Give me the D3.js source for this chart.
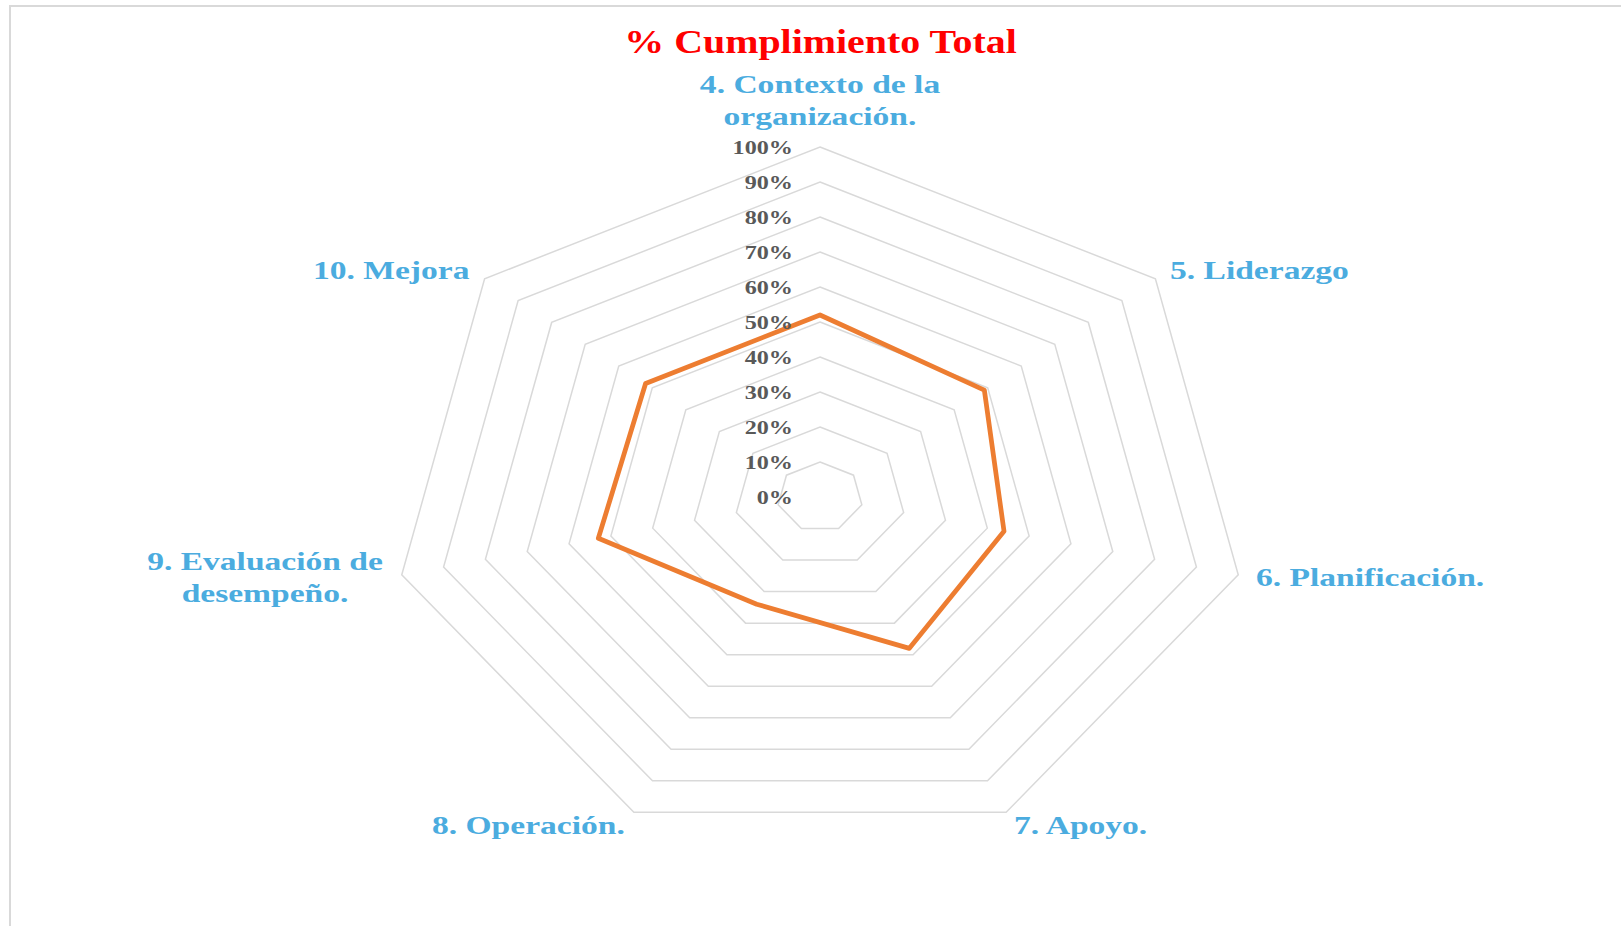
<!DOCTYPE html>
<html>
	<head>
		<title>% Cumplimiento Total</title>
		<style>
			body, html {
				margin: 0;
				padding: 0;
				background: #fff;
				overflow: hidden;
			}
			text {
				font-family: "Liberation Serif", "Times New Roman", serif;
				font-weight: bold;
			}
			.grid {
				fill: none;
				stroke: #d9d9d9;
				stroke-width: 1.5px;
			}
			.serie {
				fill: none;
				stroke: #ed7d31;
				stroke-width: 4.75px;
				stroke-linejoin: round;
			}
		</style>
	</head>
	<body>

		<svg id="svg" width="1621" height="926"></svg>

		<script src="https://d3js.org/d3.v7.min.js"></script>
		<script>
			// Data
			const titulo = '% Cumplimiento Total'
			const categorias = [
				['4. Contexto de la', 'organización.'],
				['5. Liderazgo'],
				['6. Planificación.'],
				['7. Apoyo.'],
				['8. Operación.'],
				['9. Evaluación de', 'desempeño.'],
				['10. Mejora']
			]
			const cumplimiento = [0.52, 0.49, 0.44, 0.48, 0.34, 0.53, 0.52]
			const niveles = [0, 0.1, 0.2, 0.3, 0.4, 0.5, 0.6, 0.7, 0.8, 0.9, 1]

			// Where the labels sit (the original picture is stretched sideways)
			const labelPos = [
				{ x: 820, y: 93, anchor: 'middle' },
				{ x: 1170, y: 279, anchor: 'start' },
				{ x: 1256, y: 586, anchor: 'start' },
				{ x: 1014, y: 834, anchor: 'start' },
				{ x: 432, y: 834, anchor: 'start' },
				{ x: 265, y: 570, anchor: 'middle' },
				{ x: 313, y: 279, anchor: 'start' }
			]

			const cx = 820
			const cy = 497
			const stretch = 1.29

			const svg = d3.select('#svg')

			// frame of the chart area, only top and left edges are in the shot
			svg.append('rect')
				.attr('x', 10)
				.attr('y', 6)
				.attr('width', 1700)
				.attr('height', 1000)
				.style('fill', 'none')
				.style('stroke', '#d9d9d9')
				.style('stroke-width', 2)

			// radius scales, wider than tall
			const rx = d3.scaleLinear().domain([0, 1]).range([0, 429])
			const ry = d3.scaleLinear().domain([0, 1]).range([0, 350])
			const angle = d3.scaleLinear().domain([0, categorias.length]).range([0, 2 * Math.PI])

			const px = (i, v) => cx + rx(v) * Math.sin(angle(i))
			const py = (i, v) => cy - ry(v) * Math.cos(angle(i))

			const g = svg.append('g')

			// rings
			const ring = d3.line().curve(d3.curveLinearClosed)
			g.selectAll('.grid')
				.data(niveles.slice(1))
				.enter()
				.append('path')
				.attr('class', 'grid')
				.attr('d', v => ring(categorias.map((c, i) => [px(i, v), py(i, v)])))

			// the series
			g.append('path')
				.attr('class', 'serie')
				.attr('d', ring(cumplimiento.map((v, i) => [px(i, v), py(i, v)])))

			// percentage ticks up the first axis
			g.selectAll('.tick')
				.data(niveles)
				.enter()
				.append('text')
				.attr('class', 'tick')
				.attr('transform', v => `translate(793, ${cy - ry(v)}) scale(1.24, 1)`)
				.attr('dy', '0.35em')
				.style('text-anchor', 'end')
				.style('font-size', '19.5px')
				.style('fill', '#595959')
				.text(d3.format('.0%'))

			// category labels
			const lab = g.selectAll('.cat')
				.data(categorias)
				.enter()
				.append('text')
				.attr('class', 'cat')
				.attr('transform', (d, i) => `translate(${labelPos[i].x}, ${labelPos[i].y}) scale(${stretch}, 1)`)
				.style('text-anchor', (d, i) => labelPos[i].anchor)
				.style('font-size', '26px')
				.style('fill', '#4bacdf')

			lab.selectAll('tspan')
				.data(d => d)
				.enter()
				.append('tspan')
				.attr('x', 0)
				.attr('y', (d, j) => j * 32)
				.text(d => d)

			// title
			svg.append('text')
				.attr('transform', 'translate(820.5, 53) scale(1.21, 1)')
				.style('text-anchor', 'middle')
				.style('font-size', '33px')
				.style('fill', '#ff0000')
				.text(titulo)
		</script>
	</body>
</html>
